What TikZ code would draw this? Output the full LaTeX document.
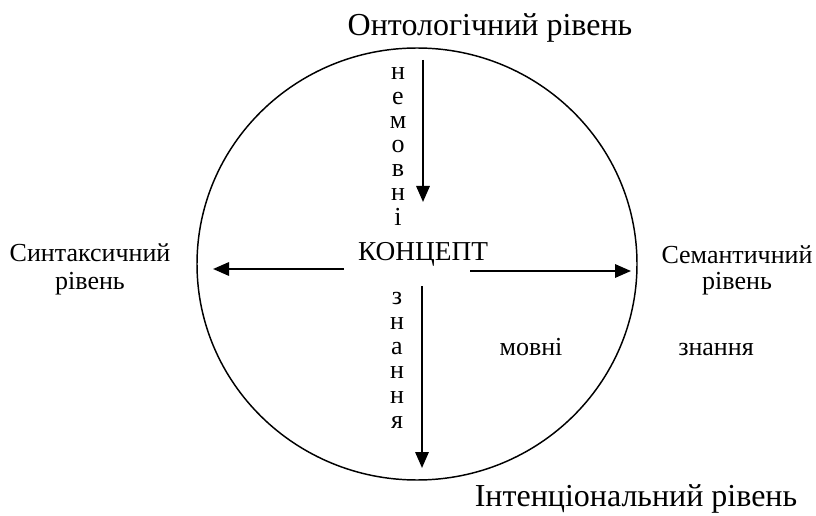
\documentclass[tikz,border=0pt]{standalone}
\usepackage{fontspec}
\setmainfont{LiberationSerif-Regular.ttf}
\usetikzlibrary{arrows.meta,positioning}

\begin{document}
\begin{tikzpicture}[x=0.75pt,y=-0.75pt,
  arr/.style={line width=1.6pt,-{Triangle[length=12pt,width=10pt]}},
  big/.style={font=\fontsize{24}{28}\selectfont,anchor=base},
  small/.style={font=\fontsize{19.5}{21}\selectfont,anchor=base}]
  \useasboundingbox (0,0) rectangle (816,516);
  % circle
  \draw[line width=1.1pt] (417,264) ellipse [x radius=165pt, y radius=162pt];
  % levels
  \node[big] (onto) at (490,36) {Онтологічний рівень};
  \node[big] (intent) at (636,506) {Інтенціональний рівень};
  \node[small] (syn1) at (90,262) {Синтаксичний};
  \node[small] (syn2) at (90,290) {рівень};
  \node[small] (sem1) at (737,263) {Семантичний};
  \node[small] (sem2) at (737,290) {рівень};
  \node[font=\fontsize{20.5}{24}\selectfont,anchor=base] (concept) at (423,261) {КОНЦЕПТ};
  \node[small] (lang) at (531,355) {мовні};
  \node[small] (know) at (716,355) {знання};
  % vertical words
  \foreach \l [count=\i] in {н,е,м,о,в,н,і}
    \node[small] (nonlang\i) at (398,{80+24.2*(\i-1)}) {\l};
  \foreach \l [count=\i] in {з,н,а,н,н,я}
    \node[small] (knowv\i) at (397,{305+24.6*(\i-1)}) {\l};
  % arrows
  \coordinate (topA) at (423,60);
  \coordinate (topB) at (423,202);
  \coordinate (leftA) at (344,269);
  \coordinate (leftB) at (213,269);
  \coordinate (rightA) at (470,271);
  \coordinate (rightB) at (631,271);
  \coordinate (botA) at (422,286);
  \coordinate (botB) at (422,468);
  \draw[arr] (topA) -- (topB);
  \draw[arr] (leftA) -- (leftB);
  \draw[arr] (rightA) -- (rightB);
  \draw[arr] (botA) -- (botB);
\end{tikzpicture}
\end{document}
